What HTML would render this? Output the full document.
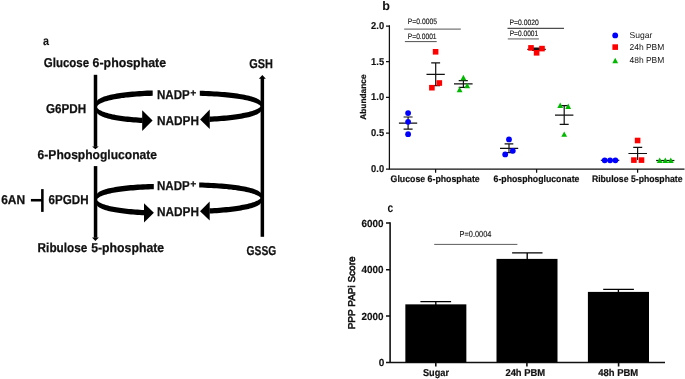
<!DOCTYPE html>
<html><head><meta charset="utf-8"><title>Figure</title>
<style>
html,body{margin:0;padding:0;background:#fff;}
svg{display:block;}
text{font-family:"Liberation Sans",sans-serif;text-rendering:geometricPrecision;}
.cb{font-weight:bold;font-size:12.9px;fill:#111;stroke:#111;stroke-width:0.25px;}
.tk{font-weight:bold;font-size:9.4px;fill:#111;stroke:#111;stroke-width:0.2px;}
.tn{font-weight:bold;font-size:10px;fill:#111;stroke:#111;stroke-width:0.15px;}
.tc{font-weight:bold;font-size:10.3px;fill:#111;stroke:#111;stroke-width:0.15px;}
.pv{font-size:7.8px;fill:#1a1a1a;stroke:#1a1a1a;stroke-width:0.15px;}
.tx{font-weight:bold;font-size:10px;fill:#111;stroke:#111;stroke-width:0.2px;}
.lg{font-size:8.6px;fill:#151515;}
</style></head><body>
<svg width="685" height="379" viewBox="0 0 685 379">
<rect width="685" height="379" fill="#fff"/>

<!-- ===== panel a ===== -->
<g id="pa">
<text class="cb" x="42.9" y="45" textLength="6" lengthAdjust="spacingAndGlyphs" style="font-size:12.3px;stroke-width:0.1px">a</text>
<text class="cb" x="43.8" y="67" textLength="45.3" lengthAdjust="spacingAndGlyphs">Glucose</text>
<text class="cb" x="92.6" y="67" textLength="73.5" lengthAdjust="spacingAndGlyphs">6-phosphate</text>
<text class="cb" x="46" y="113" textLength="40.2" lengthAdjust="spacingAndGlyphs">G6PDH</text>
<text class="cb" x="37.6" y="159.2" textLength="119.4" lengthAdjust="spacingAndGlyphs">6-Phosphogluconate</text>
<text class="cb" x="1.2" y="204.3" textLength="24" lengthAdjust="spacingAndGlyphs">6AN</text>
<text class="cb" x="48.6" y="204.3" textLength="40" lengthAdjust="spacingAndGlyphs">6PGDH</text>
<text class="cb" x="37.6" y="252" textLength="49.8" lengthAdjust="spacingAndGlyphs">Ribulose</text>
<text class="cb" x="91.2" y="252" textLength="73" lengthAdjust="spacingAndGlyphs">5-phosphate</text>
<text class="cb" x="249.2" y="68.3" textLength="23.6" lengthAdjust="spacingAndGlyphs">GSH</text>
<text class="cb" x="246.6" y="255" textLength="29.6" lengthAdjust="spacingAndGlyphs">GSSG</text>

<!-- left vertical arrows -->
<g fill="#000" stroke="none">
<rect x="93.75" y="74.8" width="3.5" height="72"/>
<path d="M92.1 146.4H98.7L95.4 149.2Z"/>
<rect x="93.8" y="166.1" width="3.5" height="71.6"/>
<path d="M92 237.4H98.9L95.4 241Z"/>
<!-- right vertical arrow -->
<rect x="260.6" y="78" width="3.5" height="158.8"/>
<path d="M258.9 78.8H265.8L262.35 75.1Z"/>
<!-- inhibitor -->
<rect x="30.9" y="198.95" width="11" height="2.55"/>
<rect x="41.1" y="189.1" width="2.55" height="22.8"/>
</g>

<!-- loops -->
<g fill="#000" stroke="none">
<path d="M96.0 104.2L96.0 103.3L96.1 102.7L96.3 102.1L96.5 101.6L96.8 101.0L97.2 100.5L97.7 100.0L98.2 99.6L98.8 99.1L99.5 98.7L100.3 98.2L101.1 97.8L102.0 97.4L102.9 97.0L103.9 96.6L105.0 96.2L106.2 95.9L107.4 95.5L108.8 95.2L110.1 94.8L111.6 94.5L113.1 94.2L114.7 93.9L116.4 93.6L118.1 93.3L119.9 93.0L121.8 92.7L123.8 92.5L125.8 92.2L127.9 92.0L130.0 91.8L132.3 91.6L134.6 91.4L137.0 91.2L139.4 91.0L141.9 90.9L144.5 90.7L147.2 90.6L149.9 90.5L152.7 90.4L152.7 95.8L149.9 95.9L147.2 96.0L144.5 96.1L141.9 96.3L139.4 96.4L137.0 96.6L134.6 96.8L132.3 97.0L130.0 97.2L127.9 97.4L125.8 97.6L123.8 97.9L121.8 98.1L119.9 98.4L118.1 98.7L116.4 99.0L114.7 99.3L113.1 99.6L111.6 99.9L110.1 100.2L108.8 100.6L107.4 100.9L106.2 101.3L105.0 101.6L103.9 102.0L102.9 102.4L102.0 102.8L101.1 103.2L100.3 103.6L99.5 104.1L98.8 104.5L98.2 105.0L97.7 105.4L97.2 105.9L96.8 106.4L96.5 107.0L96.3 107.5L96.1 108.1L96.0 108.7L96.0 109.6Z"/>
<path d="M96.0 104.2L96.0 105.0L96.1 105.7L96.2 106.2L96.4 106.7L96.7 107.2L97.0 107.7L97.4 108.2L97.8 108.6L98.3 109.0L98.9 109.5L99.5 109.9L100.2 110.3L100.9 110.6L101.7 111.0L102.5 111.4L103.4 111.8L104.4 112.1L105.4 112.5L106.5 112.8L107.6 113.1L108.8 113.4L110.1 113.8L111.4 114.1L112.8 114.4L114.2 114.6L115.7 114.9L117.2 115.2L118.8 115.4L120.5 115.7L122.2 115.9L124.0 116.2L125.8 116.4L127.7 116.6L129.7 116.8L131.7 117.0L133.7 117.2L135.9 117.3L138.1 117.5L140.3 117.7L142.6 117.8L142.6 123.1L140.3 123.0L138.1 122.8L135.9 122.6L133.7 122.5L131.7 122.3L129.7 122.1L127.7 121.9L125.8 121.7L124.0 121.5L122.2 121.2L120.5 121.0L118.8 120.7L117.2 120.5L115.7 120.2L114.2 119.9L112.8 119.7L111.4 119.4L110.1 119.1L108.8 118.7L107.6 118.4L106.5 118.1L105.4 117.8L104.4 117.4L103.4 117.1L102.5 116.7L101.7 116.3L100.9 115.9L100.2 115.6L99.5 115.2L98.9 114.8L98.3 114.3L97.8 113.9L97.4 113.5L97.0 113.0L96.7 112.5L96.4 112.0L96.2 111.5L96.1 111.0L96.0 110.3L96.0 109.6Z"/>
<path d="M261.7 103.8L261.6 103.1L261.5 102.6L261.3 102.1L261.0 101.6L260.7 101.1L260.3 100.6L259.8 100.2L259.2 99.7L258.5 99.3L257.8 98.9L257.0 98.5L256.1 98.1L255.1 97.7L254.1 97.3L253.0 96.9L251.8 96.6L250.5 96.2L249.1 95.8L247.7 95.5L246.2 95.2L244.6 94.8L242.9 94.5L241.2 94.2L239.4 93.9L237.5 93.6L235.5 93.3L233.5 93.1L231.3 92.8L229.1 92.6L226.9 92.3L224.5 92.1L222.1 91.9L219.6 91.7L217.0 91.5L214.3 91.4L211.6 91.2L208.7 91.1L205.8 91.0L202.9 90.8L199.8 90.8L199.8 95.8L202.9 95.9L205.8 96.1L208.7 96.2L211.6 96.3L214.3 96.5L217.0 96.6L219.6 96.8L222.1 97.0L224.5 97.2L226.9 97.4L229.1 97.7L231.3 97.9L233.5 98.2L235.5 98.4L237.5 98.7L239.4 99.0L241.2 99.3L242.9 99.6L244.6 99.9L246.2 100.3L247.7 100.6L249.1 100.9L250.5 101.3L251.8 101.7L253.0 102.0L254.1 102.4L255.1 102.8L256.1 103.2L257.0 103.6L257.8 104.0L258.5 104.4L259.2 104.8L259.8 105.3L260.3 105.7L260.7 106.2L261.0 106.7L261.3 107.2L261.5 107.7L261.6 108.2L261.7 108.8Z"/>
<path d="M261.7 103.6L261.6 104.3L261.5 104.8L261.4 105.3L261.1 105.7L260.8 106.2L260.5 106.6L260.1 107.0L259.6 107.5L259.0 107.9L258.4 108.3L257.7 108.7L257.0 109.1L256.1 109.4L255.3 109.8L254.3 110.2L253.3 110.5L252.2 110.9L251.1 111.2L249.9 111.6L248.6 111.9L247.3 112.2L245.9 112.5L244.4 112.8L242.8 113.1L241.2 113.4L239.6 113.7L237.8 114.0L236.1 114.2L234.2 114.5L232.3 114.7L230.3 115.0L228.2 115.2L226.1 115.4L223.9 115.6L221.6 115.8L219.3 116.0L216.9 116.2L214.5 116.3L212.0 116.5L209.4 116.6L209.4 121.9L212.0 121.8L214.5 121.6L216.9 121.5L219.3 121.3L221.6 121.1L223.9 120.9L226.1 120.7L228.2 120.5L230.3 120.3L232.3 120.0L234.2 119.8L236.1 119.5L237.8 119.3L239.6 119.0L241.2 118.7L242.8 118.4L244.4 118.1L245.9 117.8L247.3 117.5L248.6 117.2L249.9 116.9L251.1 116.5L252.2 116.2L253.3 115.8L254.3 115.5L255.3 115.1L256.1 114.7L257.0 114.4L257.7 114.0L258.4 113.6L259.0 113.2L259.6 112.8L260.1 112.3L260.5 111.9L260.8 111.5L261.1 111.0L261.4 110.6L261.5 110.1L261.6 109.6L261.7 109.0Z"/>
<path d="M142.2 110.35L152.6 120.5L142.2 130.9Z"/>
<path d="M209.75 109.55L200.1 119.45L209.75 128.95Z"/>
<path d="M96.0 196.9L96.0 196.1L96.1 195.5L96.3 194.9L96.5 194.4L96.9 193.9L97.3 193.4L97.7 192.9L98.3 192.5L98.9 192.1L99.6 191.6L100.3 191.2L101.2 190.8L102.1 190.4L103.0 190.1L104.1 189.7L105.2 189.3L106.4 189.0L107.7 188.6L109.0 188.3L110.4 188.0L111.9 187.7L113.5 187.4L115.1 187.1L116.8 186.8L118.6 186.5L120.4 186.3L122.3 186.0L124.3 185.8L126.4 185.6L128.5 185.3L130.7 185.1L133.0 185.0L135.3 184.8L137.7 184.6L140.2 184.4L142.8 184.3L145.4 184.2L148.2 184.0L150.9 183.9L153.8 183.9L153.8 189.2L150.9 189.3L148.2 189.4L145.4 189.6L142.8 189.7L140.2 189.8L137.7 190.0L135.3 190.2L133.0 190.4L130.7 190.5L128.5 190.7L126.4 191.0L124.3 191.2L122.3 191.4L120.4 191.7L118.6 191.9L116.8 192.2L115.1 192.5L113.5 192.8L111.9 193.1L110.4 193.4L109.0 193.7L107.7 194.0L106.4 194.4L105.2 194.7L104.1 195.1L103.0 195.5L102.1 195.8L101.2 196.2L100.3 196.6L99.6 197.0L98.9 197.5L98.3 197.9L97.7 198.3L97.3 198.8L96.9 199.3L96.5 199.8L96.3 200.3L96.1 200.9L96.0 201.5L96.0 202.3Z"/>
<path d="M96.0 196.9L96.0 197.7L96.1 198.3L96.2 198.9L96.4 199.4L96.7 199.8L97.0 200.3L97.4 200.7L97.9 201.2L98.4 201.6L99.0 202.0L99.6 202.4L100.3 202.8L101.1 203.2L101.9 203.5L102.8 203.9L103.7 204.2L104.7 204.6L105.8 204.9L106.9 205.2L108.1 205.6L109.3 205.9L110.6 206.2L112.0 206.5L113.4 206.7L114.9 207.0L116.4 207.3L118.0 207.5L119.7 207.8L121.4 208.0L123.2 208.3L125.1 208.5L127.0 208.7L128.9 208.9L131.0 209.1L133.0 209.3L135.2 209.4L137.4 209.6L139.7 209.7L142.0 209.9L144.4 210.0L144.4 215.3L142.0 215.2L139.7 215.0L137.4 214.9L135.2 214.7L133.0 214.6L131.0 214.4L128.9 214.2L127.0 214.0L125.1 213.8L123.2 213.6L121.4 213.3L119.7 213.1L118.0 212.8L116.4 212.6L114.9 212.3L113.4 212.0L112.0 211.8L110.6 211.5L109.3 211.2L108.1 210.9L106.9 210.5L105.8 210.2L104.7 209.9L103.7 209.5L102.8 209.2L101.9 208.8L101.1 208.5L100.3 208.1L99.6 207.7L99.0 207.3L98.4 206.9L97.9 206.5L97.4 206.0L97.0 205.6L96.7 205.1L96.4 204.7L96.2 204.2L96.1 203.6L96.0 203.0L96.0 202.2Z"/>
<path d="M261.7 195.4L261.6 194.8L261.5 194.3L261.3 193.8L261.0 193.3L260.7 192.8L260.3 192.3L259.7 191.9L259.2 191.4L258.5 191.0L257.8 190.6L256.9 190.2L256.0 189.8L255.1 189.4L254.0 189.0L252.9 188.6L251.7 188.2L250.4 187.9L249.0 187.5L247.6 187.2L246.0 186.8L244.4 186.5L242.8 186.2L241.0 185.9L239.2 185.6L237.3 185.3L235.3 185.0L233.2 184.8L231.1 184.5L228.8 184.3L226.5 184.0L224.1 183.8L221.7 183.6L219.1 183.4L216.5 183.2L213.8 183.1L211.1 182.9L208.2 182.8L205.3 182.7L202.3 182.5L199.2 182.4L199.2 187.6L202.3 187.6L205.3 187.8L208.2 187.9L211.1 188.0L213.8 188.2L216.5 188.3L219.1 188.5L221.7 188.7L224.1 188.9L226.5 189.1L228.8 189.4L231.1 189.6L233.2 189.9L235.3 190.1L237.3 190.4L239.2 190.7L241.0 191.0L242.8 191.3L244.4 191.6L246.0 191.9L247.6 192.3L249.0 192.6L250.4 193.0L251.7 193.3L252.9 193.7L254.0 194.1L255.1 194.5L256.0 194.9L256.9 195.3L257.8 195.7L258.5 196.1L259.2 196.5L259.7 197.0L260.3 197.4L260.7 197.9L261.0 198.4L261.3 198.9L261.5 199.4L261.6 199.9L261.7 200.6Z"/>
<path d="M261.7 195.3L261.6 196.0L261.5 196.5L261.4 197.0L261.1 197.4L260.8 197.9L260.5 198.3L260.1 198.7L259.6 199.2L259.0 199.6L258.4 200.0L257.7 200.4L257.0 200.8L256.1 201.1L255.3 201.5L254.3 201.9L253.3 202.2L252.2 202.6L251.1 202.9L249.9 203.3L248.6 203.6L247.3 203.9L245.9 204.2L244.4 204.5L242.8 204.8L241.2 205.1L239.6 205.4L237.8 205.7L236.1 205.9L234.2 206.2L232.3 206.4L230.3 206.7L228.2 206.9L226.1 207.1L223.9 207.3L221.6 207.5L219.3 207.7L216.9 207.9L214.5 208.0L212.0 208.2L209.4 208.3L209.4 213.6L212.0 213.5L214.5 213.3L216.9 213.2L219.3 213.0L221.6 212.8L223.9 212.6L226.1 212.4L228.2 212.2L230.3 212.0L232.3 211.7L234.2 211.5L236.1 211.2L237.8 211.0L239.6 210.7L241.2 210.4L242.8 210.1L244.4 209.8L245.9 209.5L247.3 209.2L248.6 208.9L249.9 208.6L251.1 208.2L252.2 207.9L253.3 207.5L254.3 207.2L255.3 206.8L256.1 206.4L257.0 206.1L257.7 205.7L258.4 205.3L259.0 204.9L259.6 204.5L260.1 204.0L260.5 203.6L260.8 203.2L261.1 202.7L261.4 202.3L261.5 201.8L261.6 201.3L261.7 200.7Z"/>
<path d="M144.0 203.15L153.9 212.65L144.0 222.4Z"/>
<path d="M209.7 201.4L200.0 211.25L209.7 220.6Z"/>
</g>
<text class="cb" x="157" y="99" textLength="32.8" lengthAdjust="spacingAndGlyphs">NADP</text>
<text class="cb" x="190.6" y="95.6" style="font-size:9.6px;stroke-width:0.4px">+</text>
<text class="cb" x="157" y="125" textLength="42" lengthAdjust="spacingAndGlyphs">NADPH</text>
<text class="cb" x="157" y="190" textLength="32.8" lengthAdjust="spacingAndGlyphs">NADP</text>
<text class="cb" x="190.6" y="186.6" style="font-size:9.6px;stroke-width:0.4px">+</text>
<text class="cb" x="157" y="216" textLength="42" lengthAdjust="spacingAndGlyphs">NADPH</text>
</g>

<!-- ===== panel b ===== -->
<g id="pb">
<text x="382.3" y="9.6" style="font-weight:bold;font-size:12.6px;fill:#111">b</text>
<g stroke="#111" stroke-width="1.25" fill="none">
<path d="M389.4 25.2V169.1H684.5"/>
<path d="M386 26H389.5M386 61.7H389.5M386 97.3H389.5M386 133.2H389.5M386 169H389.5"/>
<path d="M435.6 169V172.8M536.6 169V172.8M637.6 169V172.8"/>
</g>
<text class="tn" x="371.1" y="29" textLength="13" lengthAdjust="spacingAndGlyphs">2.0</text>
<text class="tn" x="371.1" y="64.7" textLength="13" lengthAdjust="spacingAndGlyphs">1.5</text>
<text class="tn" x="371.1" y="100.3" textLength="13" lengthAdjust="spacingAndGlyphs">1.0</text>
<text class="tn" x="371.1" y="136.2" textLength="13" lengthAdjust="spacingAndGlyphs">0.5</text>
<text class="tn" x="371.1" y="172" textLength="13" lengthAdjust="spacingAndGlyphs">0.0</text>
<text class="tk" transform="translate(365.6 119.8) rotate(-90)" textLength="45.4" lengthAdjust="spacingAndGlyphs" style="font-size:8.4px">Abundance</text>
<text class="tk" x="390.6" y="181.8" textLength="89.1" lengthAdjust="spacingAndGlyphs">Glucose 6-phosphate</text>
<text class="tk" x="493.6" y="181.8" textLength="85.8" lengthAdjust="spacingAndGlyphs">6-phosphogluconate</text>
<text class="tk" x="591.9" y="181.8" textLength="90.6" lengthAdjust="spacingAndGlyphs">Ribulose 5-phosphate</text>

<!-- p-values -->
<text class="pv" x="407.8" y="24.1" textLength="29.2" lengthAdjust="spacingAndGlyphs">P=0.0005</text>
<text class="pv" x="407.8" y="38.6" textLength="28.8" lengthAdjust="spacingAndGlyphs">P=0.0001</text>
<text class="pv" x="509.5" y="25.1" textLength="29.3" lengthAdjust="spacingAndGlyphs">P=0.0020</text>
<text class="pv" x="509.7" y="36" textLength="28.5" lengthAdjust="spacingAndGlyphs">P=0.0001</text>
<path d="M404.2 29.1H460.8" stroke="#777" stroke-width="1.4"/>
<path d="M404.9 41.6H436.7" stroke="#222" stroke-width="0.8"/>
<path d="M507.5 28.3H564" stroke="#222" stroke-width="1"/>
<path d="M507.8 38.9H538.9" stroke="#808080" stroke-width="1.3"/>

<!-- error bars -->
<g stroke="#111" stroke-width="1.2" fill="none">
<path d="M408.1 117V129.1M403.6 117H412.6M403.6 129.1H412.6M398.9 123.1H417.2"/>
<path d="M435.7 62.9V85.7M431.2 62.9H440.1M431.2 85.7H440.1M426.5 74.4H444.8"/>
<path d="M463.4 80.6V87.4M458.7 80.6H467.8M458.7 87.4H467.8M454 83.8H472.6"/>
<path d="M509 143.8V152.6M504.6 143.8H513.3M504.6 152.6H513.3M500 148.4H518.2"/>
<path d="M527.3 49.3H545.8M532 48.2H541M532 50.4H541"/>
<path d="M564.2 105.7V124.4M559.7 105.7H568.7M559.7 124.4H568.7M555 115.2H573.4"/>
<path d="M600.8 160.3H619.3"/>
<path d="M637.6 147.4V160M633.2 147.4H642.2M628.4 153.5H647"/>
<path d="M656.1 160.5H674.4"/>
</g>
<!-- points -->
<g fill="#0000ff">
<circle cx="408.1" cy="113.1" r="2.9"/><circle cx="408.1" cy="121.8" r="2.9"/><circle cx="408.1" cy="134.2" r="2.9"/>
<circle cx="509" cy="139.4" r="2.9"/><circle cx="512.8" cy="150.8" r="2.9"/><circle cx="505.2" cy="154.4" r="2.9"/>
<circle cx="604.7" cy="160.3" r="2.9"/><circle cx="610.1" cy="160.3" r="2.9"/><circle cx="615.4" cy="160.3" r="2.9"/>
<circle cx="615.2" cy="35.4" r="2.9"/>
</g>
<g fill="#ff0000">
<rect x="432.8" y="49" width="5.6" height="5.6"/><rect x="436.5" y="80.2" width="5.6" height="5.6"/><rect x="429.1" y="84.9" width="5.6" height="5.6"/>
<rect x="528.2" y="45.1" width="5.6" height="5.6"/><rect x="539.2" y="45.8" width="5.6" height="5.6"/><rect x="533.8" y="50" width="5.6" height="5.6"/>
<rect x="634.8" y="137.7" width="5.6" height="5.6"/><rect x="631.1" y="157.3" width="5.6" height="5.6"/><rect x="638.7" y="157.3" width="5.6" height="5.6"/>
<rect x="612.4" y="44.3" width="5.6" height="5.6"/>
</g>
<g fill="#00b800">
<path d="M463.4 74.8L466.3 80.2H460.5Z"/><path d="M467.2 82.8L470.1 88.2H464.3Z"/><path d="M459.6 86.8L462.5 92.2H456.7Z"/>
<path d="M560.2 102.5L563.1 107.9H557.3Z"/><path d="M568.2 103.5L571.1 108.9H565.3Z"/><path d="M564.2 131.4L567.1 136.8H561.3Z"/>
<path d="M659.7 157.5L662.6 162.9H656.8Z"/><path d="M665.3 157.5L668.2 162.9H662.4Z"/><path d="M670.8 157.5L673.7 162.9H667.9Z"/>
<path d="M615.2 57.8L618.1 63.2H612.3Z"/>
</g>
<text class="lg" x="629.5" y="38.4" textLength="22.8" lengthAdjust="spacingAndGlyphs">Sugar</text>
<text class="lg" x="629.5" y="50.2" textLength="34.8" lengthAdjust="spacingAndGlyphs">24h PBM</text>
<text class="lg" x="629.5" y="62.9" textLength="34.8" lengthAdjust="spacingAndGlyphs">48h PBM</text>
</g>

<!-- ===== panel c ===== -->
<g id="pc">
<text x="387.6" y="212" textLength="5.7" lengthAdjust="spacingAndGlyphs" style="font-weight:bold;font-size:12.6px;fill:#111">c</text>
<g stroke="#111" stroke-width="1.6" fill="none">
<path d="M390.1 222.2V363.1"/>
<path d="M386 362.5H665" stroke-width="1.35"/>
<path d="M386 223H390M386 269.7H390M386 316H390" stroke-width="1.4"/>
<path d="M435.8 362.3V366.6M526.9 362.3V366.6M618.6 362.3V366.6"/>
</g>
<text class="tc" x="361.5" y="226.6" textLength="22" lengthAdjust="spacingAndGlyphs">6000</text>
<text class="tc" x="361.5" y="273.3" textLength="22" lengthAdjust="spacingAndGlyphs">4000</text>
<text class="tc" x="361.5" y="319.6" textLength="22" lengthAdjust="spacingAndGlyphs">2000</text>
<text class="tc" x="378.7" y="366" textLength="5.6" lengthAdjust="spacingAndGlyphs">0</text>
<text transform="translate(354.5 329.3) rotate(-90)" textLength="72.8" lengthAdjust="spacingAndGlyphs" style="font-size:9.8px;fill:#111;stroke:#111;stroke-width:0.6px">PPP PAPi Score</text>
<g fill="#000">
<rect x="405.35" y="304.35" width="61" height="58.2"/>
<rect x="496.5" y="258.9" width="61" height="103.5"/>
<rect x="587.9" y="291.9" width="61.1" height="70.5"/>
</g>
<g stroke="#000" stroke-width="1.35" fill="none">
<path d="M435.8 301.6V305M420.4 301.6H451.1"/>
<path d="M527.2 252.8V260M512.1 252.8H542.5"/>
<path d="M618.4 289.4V293M603.2 289.4H633.9"/>
</g>
<text class="pv" x="459.6" y="237" textLength="31.8" lengthAdjust="spacingAndGlyphs" style="font-size:8.7px">P=0.0004</text>
<path d="M434.2 244.4H517.4" stroke="#333" stroke-width="0.8"/>
<text class="tx" x="423" y="376" textLength="26" lengthAdjust="spacingAndGlyphs">Sugar</text>
<text class="tx" x="505.4" y="376" textLength="39.8" lengthAdjust="spacingAndGlyphs">24h PBM</text>
<text class="tx" x="598.2" y="376" textLength="40" lengthAdjust="spacingAndGlyphs">48h PBM</text>
</g>
</svg>
</body></html>
